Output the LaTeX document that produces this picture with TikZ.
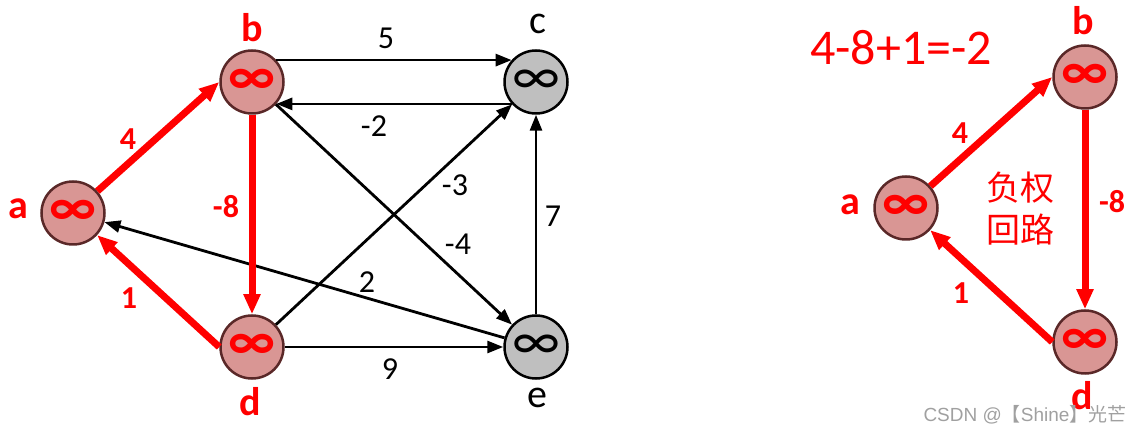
\documentclass[tikz,border=0pt]{standalone}
\usepackage{fontspec}
\setmainfont{Carlito}
\newfontfamily\cjk{Noto Sans CJK SC}
\newfontfamily\wmlatin{Liberation Sans}
\usetikzlibrary{arrows.meta}
\definecolor{nodered}{HTML}{D99694}
\definecolor{nodegray}{HTML}{BFBFBF}
\definecolor{rimbrown}{HTML}{5A2828}
\definecolor{pptred}{HTML}{FF0000}
\definecolor{wmgray}{HTML}{A0A0A0}
\tikzset{
  rnode/.style={circle,draw=rimbrown,fill=nodered,line width=2.5pt,minimum size=63pt,inner sep=0pt,
    text=pptred,font=\fontsize{56}{56}\selectfont\bfseries},
  gnode/.style={circle,draw=black,fill=nodegray,line width=2.5pt,minimum size=63pt,inner sep=0pt,
    text=black,font=\fontsize{56}{56}\selectfont},
  blk/.style={line width=2.8pt,-{Triangle[length=16pt,width=12pt]}},
  red/.style={line width=7pt,draw=pptred,-{Triangle[length=20pt,width=16pt]}},
  vname/.style={font=\fontsize{40}{40}\selectfont\bfseries,text=pptred,inner sep=0pt},
  gname/.style={font=\fontsize{40}{40}\selectfont,text=black,inner sep=0pt},
  wt/.style={font=\fontsize{32}{32}\selectfont,text=black,inner sep=0pt},
  rwt/.style={font=\fontsize{32}{32}\selectfont\bfseries,text=pptred,inner sep=0pt},
}
\begin{document}
\begin{tikzpicture}[x=1pt,y=-1pt]
\useasboundingbox (0,0) rectangle (1141,435);
% left graph
\node[rnode] (a) at (73,213) {∞};
\node[rnode] (b) at (252,82) {∞};
\node[gnode] (c) at (536,82) {∞};
\node[rnode] (d) at (252,347) {∞};
\node[gnode] (e) at (536,347) {∞};
\node[vname] (la) at (18,209) {a};
\node[vname] (lb) at (252,28) {b};
\node[gname] (lc) at (538,24) {c};
\node[vname] (ld) at (250,402) {d};
\node[gname] (le) at (537,398) {e};
\draw[blk] (b.42) -- (c.138);
\draw[blk] (c.-138) -- (b.-42);
\draw[blk] (b) -- (e);
\draw[blk] (d) -- (c);
\draw[blk] (e) -- (a);
\draw[blk] (d) -- (e);
\draw[blk] (e) -- (c);
\draw[red] (a) -- (b.west);
\draw[red] (b) -- (d);
\draw[red] (d.west) -- (a);
\node[wt] (w5) at (386,38) {5};
\node[wt] (wm2) at (374,126) {-2};
\node[wt] (wm3) at (455,185) {-3};
\node[wt] (wm4) at (458,244) {-4};
\node[wt] (w7) at (553,216) {7};
\node[wt] (w2) at (367,282) {2};
\node[wt] (w9) at (390,369) {9};
\node[rwt] (r4) at (128,139) {4};
\node[rwt] (rm8) at (226,207) {-8};
\node[rwt] (r1) at (129,298) {1};
% right graph
\node[rnode] (a2) at (906,208) {∞};
\node[rnode] (b2) at (1085,77) {∞};
\node[rnode] (d2) at (1085,342) {∞};
\node[vname] (la2) at (850,205) {a};
\node[vname] (lb2) at (1083,21) {b};
\node[vname] (ld2) at (1082,396) {d};
\draw[red] (a2) -- (b2.west);
\draw[red] (b2) -- (d2);
\draw[red] (d2.west) -- (a2);
\node[rwt] (s4) at (960,133) {4};
\node[rwt] (sm8) at (1112,202) {-8};
\node[rwt] (s1) at (961,293) {1};
\node[font=\fontsize{50}{50}\selectfont,text=pptred,inner sep=0pt] (eq) at (901,48) {4-8+1=-2};
\node[font=\cjk\fontsize{34}{42}\selectfont,text=pptred,align=center,inner sep=0pt] (neg) at (1020,209) {负权\\回路};
\node[font=\wmlatin\fontsize{19}{19}\selectfont,text=wmgray,inner sep=0pt] (wm) at (1025,415) {CSDN @{\cjk【}Shine{\cjk】光芒}};
\end{tikzpicture}
\end{document}
